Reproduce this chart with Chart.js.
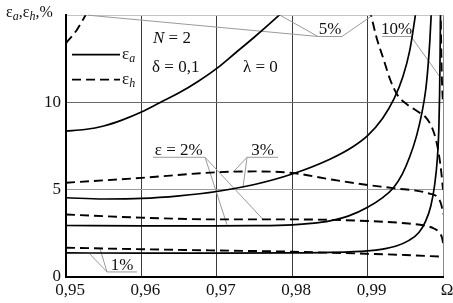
<!DOCTYPE html>
<html>
<head>
<meta charset="utf-8">
<script src="https://cdn.jsdelivr.net/npm/chart.js@4.4.1/dist/chart.umd.min.js"></script>
<style>
html,body{margin:0;padding:0;background:#fff;}
#wrap{width:453px;height:303px;}
</style>
</head>
<body>
<div id="wrap"><canvas id="c" width="453" height="303"></canvas></div>
<script>
// ---- tick labels ----
const omegaTicks = [0.95, 0.96, 0.97, 0.98, 0.99, 1.0];
const omegaTickLabels = ['0,95', '0,96', '0,97', '0,98', '0,99', 'Ω'];
const yTicks = [0, 5, 10, 15];
const yTickLabels = ['0', '5', '10', ''];

// ---- ε = 1% ----
const om_a1 = [0.95, 0.96, 0.97, 0.98, 0.985, 0.99, 0.992, 0.9938, 0.9955, 0.9968, 0.9977, 0.9984, 0.9989, 0.99925, 0.99945, 0.99955, 0.99962, 0.99968];
const ea_1  = [1.38, 1.37, 1.37, 1.38, 1.41, 1.5, 1.6, 1.78, 2.1, 2.55, 3.2, 4.1, 5.3, 6.8, 8.5, 10.5, 13.0, 15.6];
const om_h1 = [0.95, 0.96, 0.97, 0.98, 0.99, 0.995, 1.0];
const eh_1  = [1.68, 1.59, 1.52, 1.45, 1.33, 1.26, 1.16];

// ---- ε = 2% ----
const om_a2 = [0.95, 0.96, 0.97, 0.975, 0.98, 0.9825, 0.985, 0.9875, 0.99, 0.992, 0.9934, 0.9946, 0.9956, 0.9965, 0.9972, 0.9977, 0.998, 0.99825, 0.9985];
const ea_2  = [2.95, 2.93, 2.93, 2.94, 2.99, 3.07, 3.22, 3.5, 4.0, 4.55, 5.1, 5.9, 6.9, 8.1, 9.4, 10.7, 12.0, 13.5, 15.6];
const om_h2 = [0.95, 0.96, 0.97, 0.98, 0.99, 0.995, 0.9975, 0.9988, 0.9995, 0.9999, 1.0];
const eh_2  = [3.58, 3.40, 3.30, 3.30, 3.21, 3.08, 2.95, 2.78, 2.55, 2.2, 1.95];

// ---- ε = 3% ----
const om_a3 = [0.95, 0.955, 0.96, 0.965, 0.97, 0.975, 0.98, 0.985, 0.988, 0.99, 0.992, 0.9935, 0.9947, 0.9956, 0.9962, 0.9966];
const ea_3  = [4.54, 4.47, 4.5, 4.65, 4.9, 5.3, 5.9, 6.75, 7.45, 8.1, 9.1, 10.2, 11.5, 13.0, 14.6, 15.8];
const om_h3 = [0.95, 0.96, 0.97, 0.975, 0.98, 0.985, 0.99, 0.9934, 0.998, 0.9994, 0.9998, 1.0];
const eh_3  = [5.4, 5.68, 6.0, 6.05, 5.96, 5.6, 5.27, 5.09, 4.8, 4.5, 4.1, 3.6];

// ---- ε = 5% ----
const om_a5  = [0.95, 0.9525, 0.955, 0.9575, 0.96, 0.9625, 0.965, 0.9675, 0.97, 0.9725, 0.975, 0.9775, 0.98];
const ea_5   = [8.36, 8.45, 8.65, 9.0, 9.45, 10.0, 10.55, 11.2, 11.95, 12.85, 13.75, 14.7, 15.7];
const om_h5a = [0.95, 0.9515, 0.9531];
const eh_5a  = [13.4, 14.2, 15.4];
const om_h5b = [0.9902, 0.99045, 0.9912, 0.9921, 0.993, 0.994, 0.9952, 0.9966, 0.9978, 0.9986, 0.9991, 0.9995, 0.9998, 1.0];
const eh_5b  = [15.4, 15.0, 13.7, 12.5, 11.3, 10.4, 9.9, 9.5, 9.1, 8.5, 7.8, 6.9, 5.9, 5.0];

// ---- ε = 10% ----
const om_h10 = [0.99968, 0.9998, 0.9999, 1.0];
const eh_10  = [15.5, 12.3, 10.8, 10.0];

// ---- build datasets ----
const pts = (xs, ys) => xs.map((x, i) => ({x: x, y: ys[i]}));
const SOLID = {borderColor: '#000', borderWidth: 1.7, pointRadius: 0, fill: false, cubicInterpolationMode: 'monotone', capBezierPoints: false};
const DASH  = {borderColor: '#000', borderWidth: 1.9, borderDash: [9, 5], pointRadius: 0, fill: false, cubicInterpolationMode: 'monotone', capBezierPoints: false};

const datasets = [
  Object.assign({label: 'εa 1%', data: pts(om_a1, ea_1)}, SOLID),
  Object.assign({label: 'εh 1%', data: pts(om_h1, eh_1)}, DASH),
  Object.assign({label: 'εa 2%', data: pts(om_a2, ea_2)}, SOLID),
  Object.assign({label: 'εh 2%', data: pts(om_h2, eh_2)}, DASH),
  Object.assign({label: 'εa 3%', data: pts(om_a3, ea_3)}, SOLID),
  Object.assign({label: 'εh 3%', data: pts(om_h3, eh_3)}, DASH),
  Object.assign({label: 'εa 5%', data: pts(om_a5, ea_5)}, SOLID),
  Object.assign({label: 'εh 5%', data: pts(om_h5a, eh_5a)}, DASH),
  Object.assign({label: 'εh 5% (b)', data: pts(om_h5b, eh_5b)}, DASH),
  Object.assign({label: 'εh 10%', data: pts(om_h10, eh_10)}, DASH)
];

// ---- annotations (data coordinates) ----
const leaderSegs = [
  // ε = 2%
  [[0.96154, 6.86], [0.96844, 6.86]],
  [[0.96844, 6.86], [0.97135, 3.0]],
  [[0.96844, 6.86], [0.97613, 3.30]],
  // 3%
  [[0.97401, 6.86], [0.97812, 6.86]],
  [[0.97401, 6.86], [0.97215, 6.0]],
  [[0.97401, 6.86], [0.97347, 5.12]],
  // 5%
  [[0.98342, 13.78], [0.9866, 13.78]],
  [[0.98342, 13.78], [0.97838, 15.0]],
  [[0.98342, 13.78], [0.95292, 15.0]],
  [[0.9866, 13.78], [0.99032, 14.89]],
  // 10%
  [[0.99191, 13.78], [0.99576, 13.78]],
  [[0.99576, 13.78], [0.9996, 11.46]],
  // 1%
  [[0.95544, 0.29], [0.95942, 0.29]],
  [[0.95544, 0.29], [0.95318, 1.31]],
  [[0.95544, 0.29], [0.95451, 1.62]]
];
const curveLabels = [
  {text: 'ε = 2%', x: 0.96495, y: 6.97},
  {text: '3%', x: 0.97606, y: 6.97},
  {text: '5%', x: 0.98501, y: 13.9},
  {text: '10%', x: 0.99383, y: 13.9},
  {text: '1%', x: 0.95743, y: 0.4}
];

const SERIF = '"Liberation Serif", "DejaVu Serif", serif';

function drawSub(ctx, x, y, main, sub, size) {
  ctx.font = size + 'px ' + SERIF;
  ctx.fillText(main, x, y);
  let w = ctx.measureText(main).width;
  ctx.font = 'italic ' + Math.round(size * 0.72) + 'px ' + SERIF;
  ctx.fillText(sub, x + w, y + 3);
  return w + ctx.measureText(sub).width;
}

const annot = {
  id: 'annot',
  beforeDatasetsDraw(chart) {
    const ctx = chart.ctx, sx = chart.scales.x, sy = chart.scales.y;
    ctx.save();
    ctx.strokeStyle = '#9a9a9a';
    ctx.lineWidth = 1;
    leaderSegs.forEach(s => {
      ctx.beginPath();
      ctx.moveTo(sx.getPixelForValue(s[0][0]), sy.getPixelForValue(s[0][1]));
      ctx.lineTo(sx.getPixelForValue(s[1][0]), sy.getPixelForValue(s[1][1]));
      ctx.stroke();
    });
    ctx.restore();
  },
  afterDatasetsDraw(chart) {
    const ctx = chart.ctx, sx = chart.scales.x, sy = chart.scales.y;
    const X = v => sx.getPixelForValue(v), Y = v => sy.getPixelForValue(v);
    ctx.save();
    ctx.fillStyle = '#111';
    ctx.textBaseline = 'alphabetic';
    // curve labels
    ctx.textAlign = 'center';
    ctx.font = '17px ' + SERIF;
    curveLabels.forEach(l => ctx.fillText(l.text, X(l.x), Y(l.y)));
    ctx.textAlign = 'left';
    // parameters
    ctx.font = 'italic 17px ' + SERIF;
    ctx.fillText('N', X(0.96154), Y(13.4));
    let wN = ctx.measureText('N').width;
    ctx.font = '17px ' + SERIF;
    ctx.fillText(' = 2', X(0.96154) + wN, Y(13.4));
    ctx.fillText('δ = 0,1', X(0.96141), Y(11.75));
    ctx.fillText('λ = 0', X(0.97348), Y(11.75));
    // legend
    ctx.strokeStyle = '#000';
    ctx.lineWidth = 1.7;
    ctx.beginPath();
    ctx.moveTo(X(0.9508), Y(12.74)); ctx.lineTo(X(0.95716), Y(12.74));
    ctx.stroke();
    ctx.lineWidth = 1.9;
    ctx.setLineDash([9, 5]);
    ctx.beginPath();
    ctx.moveTo(X(0.9508), Y(11.31)); ctx.lineTo(X(0.95716), Y(11.31));
    ctx.stroke();
    ctx.setLineDash([]);
    drawSub(ctx, X(0.95743), Y(12.5), 'ε', 'a', 17);
    drawSub(ctx, X(0.95743), Y(11.05), 'ε', 'h', 17);
    // axis title
    let x0 = 6;
    x0 += drawSub(ctx, x0, 17, 'ε', 'a', 16);
    ctx.font = '16px ' + SERIF;
    ctx.fillText(',', x0, 17); x0 += ctx.measureText(',').width;
    x0 += drawSub(ctx, x0, 17, 'ε', 'h', 16);
    ctx.font = '16px ' + SERIF;
    ctx.fillText(',%', x0, 17);
    ctx.restore();
  }
};

const gridX = ctx => {
  const v = ctx.tick ? ctx.tick.value : null;
  if (v === null) return 'rgba(0,0,0,0)';
  if (Math.abs(v - 0.95) < 1e-6) return 'rgba(0,0,0,0)';
  if (Math.abs(v - 1.0) < 1e-6) return '#8a8a8a';
  return '#3a3a3a';
};
const gridY = ctx => {
  const v = ctx.tick ? ctx.tick.value : null;
  if (v === 0 || v === null) return 'rgba(0,0,0,0)';
  if (v === 5) return '#9a9a9a';
  if (v === 10) return '#6a6a6a';
  return '#c4c4c4';
};

new Chart(document.getElementById('c'), {
  type: 'line',
  data: {datasets: datasets},
  options: {
    responsive: false,
    animation: false,
    devicePixelRatio: 1,
    layout: {padding: {top: 6, right: 10, left: 0, bottom: 0}},
    plugins: {legend: {display: false}, tooltip: {enabled: false}},
    scales: {
      x: {
        type: 'linear', min: 0.95, max: 1.0,
        afterBuildTicks: s => { s.ticks = omegaTicks.map(v => ({value: v})); },
        afterFit: s => { s.height = 26; },
        ticks: {
          callback: (v, i) => omegaTickLabels[i],
          font: {family: SERIF, size: 17}, color: '#111',
          padding: 3, labelOffset: 4, maxRotation: 0, autoSkip: false
        },
        grid: {color: gridX, lineWidth: 1, drawTicks: false},
        border: {color: '#000', width: 2}
      },
      y: {
        type: 'linear', min: 0, max: 15,
        afterBuildTicks: s => { s.ticks = yTicks.map(v => ({value: v})); },
        afterFit: s => { s.width = 66; },
        ticks: {
          callback: (v, i) => yTickLabels[i],
          font: {family: SERIF, size: 17}, color: '#111',
          padding: 5
        },
        grid: {color: gridY, lineWidth: 1, drawTicks: false},
        border: {color: '#000', width: 2}
      }
    }
  },
  plugins: [annot]
});
</script>
</body>
</html>
